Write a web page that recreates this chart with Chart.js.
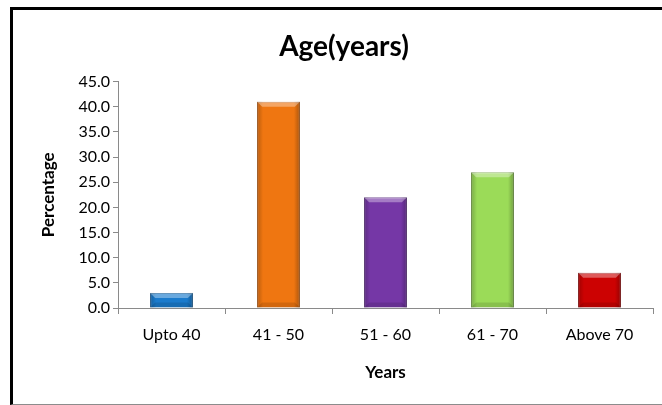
<!DOCTYPE html>
<html>
<head>
<meta charset="utf-8">
<script src="https://cdn.jsdelivr.net/npm/chart.js@4.4.1/dist/chart.umd.min.js"></script>
<style>
  body { margin: 0; background: #fff; }
  #marco { position: absolute; left: 10px; top: 7px; width: 700px; height: 398px; box-sizing: border-box;
           border-left: 3px solid #000; border-top: 3px solid #000; border-bottom: 1px solid #8c8c8c; }
  #caja { position: absolute; left: 0; top: 0; width: 662px; height: 405px; }
</style>
</head>
<body>
<div id="marco"></div>
<div id="caja"><canvas id="grafica"></canvas></div>
<script>
// Datos
const categorias = ["Upto 40", "41 - 50", "51 - 60", "61 - 70", "Above 70"];
const porcentajes = [3, 41, 22, 27, 7];
const colores = ["#1b7bcc", "#ef7611", "#7537a6", "#9bdb58", "#cc0202"];
const bordes = ["#145c99", "#b8570a", "#54247a", "#6f9f3c", "#8f0000"];

const fuente = "Lato, 'Open Sans', sans-serif";
const gris = "#8a8a8a";

// Efecto de bisel como en Excel
const bisel = {
  id: "bisel",
  afterDatasetsDraw(chart) {
    const ctx = chart.ctx;
    chart.getDatasetMeta(0).data.forEach(bar => {
      const izq = bar.x - bar.width / 2, der = bar.x + bar.width / 2;
      const arriba = bar.y, abajo = bar.base;
      const b = 5;
      ctx.save();
      // lados oscuros
      let g = ctx.createLinearGradient(izq, 0, der, 0);
      g.addColorStop(0, "rgba(0,0,0,0.22)");
      g.addColorStop(0.14, "rgba(0,0,0,0)");
      g.addColorStop(0.86, "rgba(0,0,0,0)");
      g.addColorStop(1, "rgba(0,0,0,0.28)");
      ctx.fillStyle = g;
      ctx.fillRect(izq, arriba, der - izq, abajo - arriba);
      // borde superior claro
      ctx.beginPath();
      ctx.moveTo(izq, arriba);
      ctx.lineTo(der, arriba);
      ctx.lineTo(der - b, arriba + b);
      ctx.lineTo(izq + b, arriba + b);
      ctx.closePath();
      ctx.fillStyle = "rgba(255,255,255,0.35)";
      ctx.fill();
      // borde inferior oscuro
      ctx.beginPath();
      ctx.moveTo(izq, abajo);
      ctx.lineTo(der, abajo);
      ctx.lineTo(der - b, abajo - b);
      ctx.lineTo(izq + b, abajo - b);
      ctx.closePath();
      ctx.fillStyle = "rgba(0,0,0,0.12)";
      ctx.fill();
      ctx.restore();
    });
  }
};

new Chart(document.getElementById("grafica"), {
  type: "bar",
  data: {
    labels: categorias,
    datasets: [{
      data: porcentajes,
      backgroundColor: colores,
      borderColor: bordes,
      borderWidth: 1,
      barPercentage: 0.4,
      categoryPercentage: 1
    }]
  },
  plugins: [bisel],
  options: {
    responsive: true,
    maintainAspectRatio: false,
    animation: false,
    layout: { padding: { left: 35, right: 9, top: 20, bottom: 17 } },
    plugins: {
      legend: { display: false },
      tooltip: { enabled: false },
      title: {
        display: true,
        text: "Age(years)",
        color: "#000",
        font: { family: fuente, size: 28, weight: "bold" },
        padding: { top: 10, bottom: 18 }
      }
    },
    scales: {
      x: {
        afterFit: s => { s.height = 80; },
        grid: { offset: true, drawOnChartArea: false, tickLength: 6, color: gris },
        border: { color: gris },
        ticks: { color: "#000", padding: 11, font: { family: fuente, size: 16 } },
        title: {
          display: true, text: "Years", color: "#000",
          font: { family: fuente, size: 17, weight: "bold" },
          padding: { top: 4, bottom: 5 }
        }
      },
      y: {
        min: 0,
        max: 45,
        afterFit: s => { s.width = 83; },
        grid: { drawOnChartArea: false, tickLength: 5, color: gris },
        border: { color: gris },
        ticks: {
          stepSize: 5, color: "#000", padding: 3,
          font: { family: fuente, size: 16 },
          callback: v => v.toFixed(1)
        },
        title: {
          display: true, text: "Percentage", color: "#000",
          font: { family: fuente, size: 17, weight: "bold" },
          padding: { top: 3, bottom: 4 }
        }
      }
    }
  }
});
</script>
</body>
</html>
